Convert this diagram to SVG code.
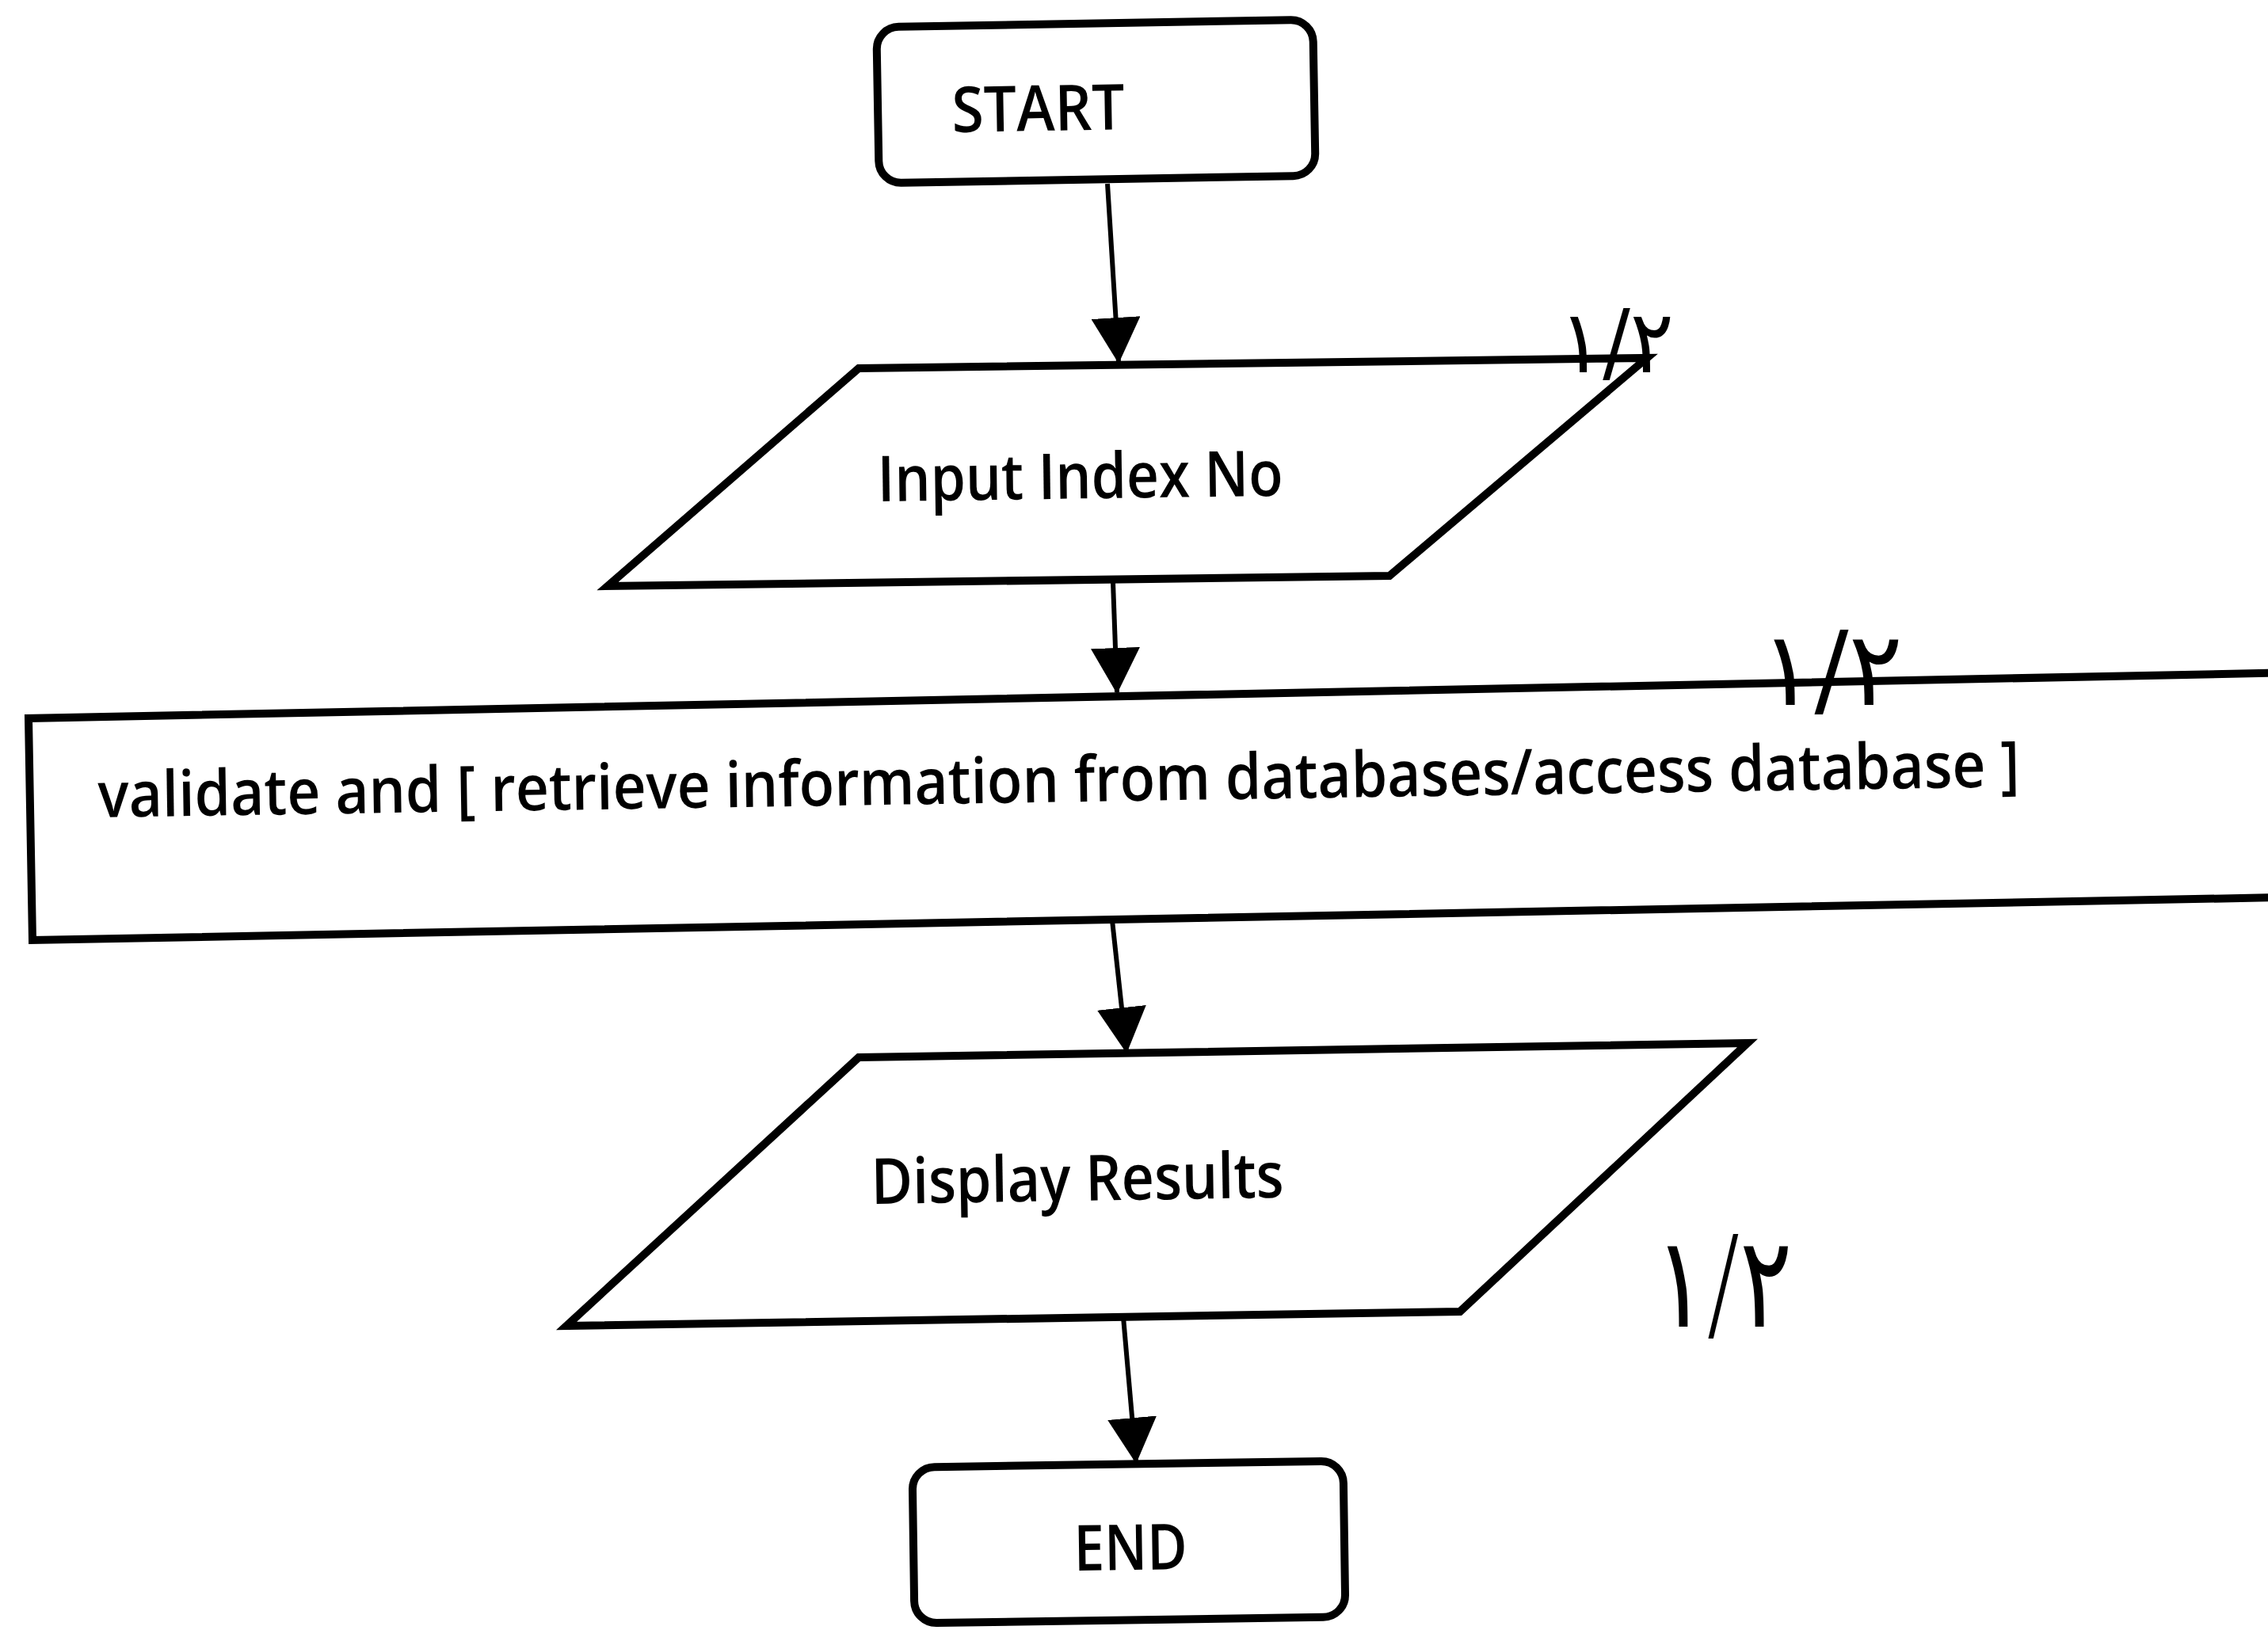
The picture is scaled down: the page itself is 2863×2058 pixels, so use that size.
<svg xmlns="http://www.w3.org/2000/svg" width="2863" height="2058" viewBox="0 0 2863 2058">
<style>
.shape{fill:none;stroke:#000;stroke-width:10;stroke-linejoin:miter}
.conn{fill:none;stroke:#000;stroke-width:6}
.lbl{font-family:"Open Sans","Noto Sans","Liberation Sans",sans-serif;font-size:80px;font-weight:600;fill:#000}
.hand{font-family:"DejaVu Sans","Noto Sans",sans-serif;fill:#000}
</style>
<defs>
<marker id="arrow" viewBox="0 0 58 62" refX="56" refY="31" markerWidth="58" markerHeight="62" markerUnits="userSpaceOnUse" orient="auto">
<path d="M0,0 L58,31 L0,62 Z" fill="#000"/>
</marker>
</defs>
<rect width="2863" height="2058" fill="#fff"/>
<g id="connectors">
<path class="conn" d="M1398,232 L1412,457" marker-end="url(#arrow)"/>
<path class="conn" d="M1405,735 L1410,874" marker-end="url(#arrow)"/>
<path class="conn" d="M1404,1162 L1422,1328" marker-end="url(#arrow)"/>
<path class="conn" d="M1418,1663 L1434,1846" marker-end="url(#arrow)"/>
</g>
<g id="start">
<rect class="shape" x="1108" y="29.5" width="551" height="197" rx="28" transform="rotate(-1 1383.5 128)"/>
<text class="lbl" x="1202" y="167" font-size="84" textLength="218" lengthAdjust="spacingAndGlyphs" transform="rotate(-1 1202 167)">START</text>
</g>
<g id="input">
<polygon class="shape" points="1084,465 2079,452 1754,727 767,740"/>
<text class="lbl" x="1108" y="633" textLength="512" lengthAdjust="spacingAndGlyphs" transform="rotate(-0.8 1108 633)">Input Index No</text>
</g>
<g id="process">
<path class="shape" d="M2880,849.5 L36,907 L41,1187 L2880,1133"/>
<text class="lbl" x="124" y="1032" textLength="2426" lengthAdjust="spacingAndGlyphs" transform="rotate(-0.92 124 1032)">validate and [ retrieve information from databases/access database ]</text>
</g>
<g id="display">
<polygon class="shape" points="1084,1335 2206,1317 1843,1656 715,1674"/>
<text class="lbl" x="1100" y="1520" textLength="521" lengthAdjust="spacingAndGlyphs" transform="rotate(-0.9 1100 1520)">Display Results</text>
</g>
<g id="end">
<rect class="shape" x="1153" y="1848.5" width="544" height="197" rx="28" transform="rotate(-0.85 1425 1947)"/>
<text class="lbl" x="1356" y="1983" textLength="143" lengthAdjust="spacingAndGlyphs" transform="rotate(-0.85 1356 1983)">END</text>
</g>
<g id="marks">
<text class="hand" x="1968" y="470" font-size="110" textLength="145" lengthAdjust="spacingAndGlyphs">١/٢</text>
<text class="hand" x="2222" y="890" font-size="130" textLength="180" lengthAdjust="spacingAndGlyphs">١/٢</text>
<text class="hand" x="2088" y="1675" font-size="160" font-weight="200" textLength="175" lengthAdjust="spacingAndGlyphs">١/٢</text>
</g>
</svg>
